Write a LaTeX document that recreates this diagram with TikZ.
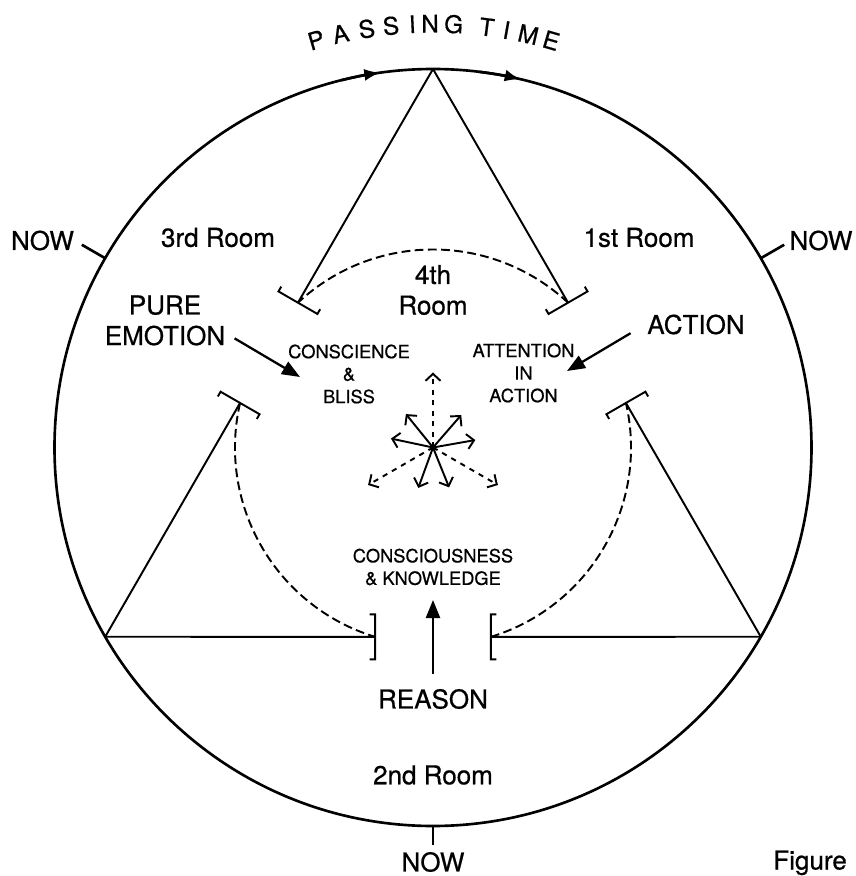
\documentclass[tikz,border=0pt]{standalone}
\usepackage{fontspec}
\setmainfont{TeX Gyre Heros}[FakeBold=0.6]
\usetikzlibrary{arrows.meta,calc,positioning}

\begin{document}
\begin{tikzpicture}[
    rim/.style={line width=1.5pt},
    leg/.style={line width=1.1pt},
    arcdash/.style={line width=1.1pt, dash pattern=on 5pt off 2.5pt},
    big/.style={font=\fontsize{14.8}{17.4}\selectfont, align=center, inner sep=1pt},
    small/.style={font=\fontsize{10.4}{12.8}\selectfont, align=center, inner sep=1pt},
    tlet/.style={font=\fontsize{13.8}{15}\selectfont, anchor=base, inner sep=0pt},
    push/.style={line width=1.3pt, -{Triangle[length=3.6mm,width=2.8mm]}},
    ray/.style={line width=1.1pt, -{Straight Barb[length=1.4mm,width=3mm]}},
    dray/.style={ray, dash pattern=on 3pt off 3pt}
]
    \useasboundingbox (-8.66,-8.57) rectangle (8.46,8.95);
    \def\outr{7.57}
    \def\innr{3.96}
    \coordinate (o) at (0,0);

    % Circle of passing time
    \draw[rim] (o) circle[radius=\outr];
    \draw[rim, -{Latex[length=3.2mm,width=2.4mm]}] (104:\outr) arc[start angle=104, end angle=98, radius=\outr];
    \draw[rim, -{Latex[length=3.2mm,width=2.4mm]}] (83:\outr) arc[start angle=83, end angle=76.6, radius=\outr];

    % NOW ticks
    \foreach \a/\l in {150/0.54, 30/0.54, 270/0.38}
        \draw[rim] (\a:\outr) -- (\a:{\outr+\l});

    % Rooms: triangles, brackets, dashed arcs
    \foreach \a in {90,210,330} {
        \coordinate (apex\a) at (\a:\outr);
        \coordinate (in\a l) at ({\a+43}:\innr);
        \coordinate (in\a r) at ({\a-43}:\innr);
        \foreach \s in {l,r} {
            \draw[leg] (apex\a) -- (in\a\s);
            \coordinate (b1) at ($(in\a\s)!0.45cm!90:(apex\a)$);
            \coordinate (b2) at ($(in\a\s)!0.45cm!-90:(apex\a)$);
            \draw[leg] ($(b1)!0.11cm!90:(in\a\s)$) -- (b1) -- (b2) -- ($(b2)!0.11cm!-90:(in\a\s)$);
        }
        \draw[arcdash] (in\a r) arc[start angle={\a-43}, end angle={\a+43}, radius=\innr];
    }

    % Centre arrows
    \foreach \a in {90,210,330}
        \draw[dray] (o) -- (\a:1.5);
    \foreach \a in {10,49,129,168,250,292}
        \draw[ray] (o) -- (\a:0.86);

    % Passing time
    \foreach \ch/\a [count=\i] in {P/106.0, A/102.6, S/99.0, S/95.7, I/92.8, N/90.4, G/87.2, T/82.7, I/80.0, M/77.0, E/73.8}
        \node[tlet, rotate=\a-90] (pt\i) at (\a:8.3) {\ch};

    % Labels
    \node[big] (nowl) at (-7.81,4.14) {NOW};
    \node[big] (nowr) at (7.76,4.14) {NOW};
    \node[big] (nowb) at (0,-8.29) {NOW};
    \node[big] (room3) at (-4.30,4.2) {3rd Room};
    \node[big] (room1) at (4.12,4.2) {1st Room};
    \node[big] (room4) at (0,3.15) {4th\\Room};
    \node[big] (room2) at (0,-6.55) {2nd Room};
    \node[big] (emotion) at (-5.36,2.54) {PURE\\EMOTION};
    \node[big] (action) at (5.26,2.46) {ACTION};
    \node[big] (reason) at (0,-5.03) {REASON};
    \node[small] (bliss) at (-1.68,1.47) {CONSCIENCE\\\&\\BLISS};
    \node[small] (attention) at (1.81,1.49) {ATTENTION\\IN\\ACTION};
    \node[small] (knowledge) at (0,-2.39) {CONSCIOUSNESS\\\& KNOWLEDGE};
    \node[big, anchor=base west, inner sep=0pt] (figure) at (6.8,-8.44) {Figure};

    % Forces pointing inwards
    \coordinate (emotip) at (-2.66,1.41);
    \coordinate (acttip) at (2.68,1.53);
    \coordinate (reatip) at (0,-3.05);
    \draw[push, shorten <=0.17cm] ($(emotion.east)!0.5!(emotion.south east)$) -- (emotip);
    \draw[push, shorten <=0.34cm] (action.west) -- (acttip);
    \draw[push, shorten <=0.26cm] (reason.north) -- (reatip);
\end{tikzpicture}
\end{document}
